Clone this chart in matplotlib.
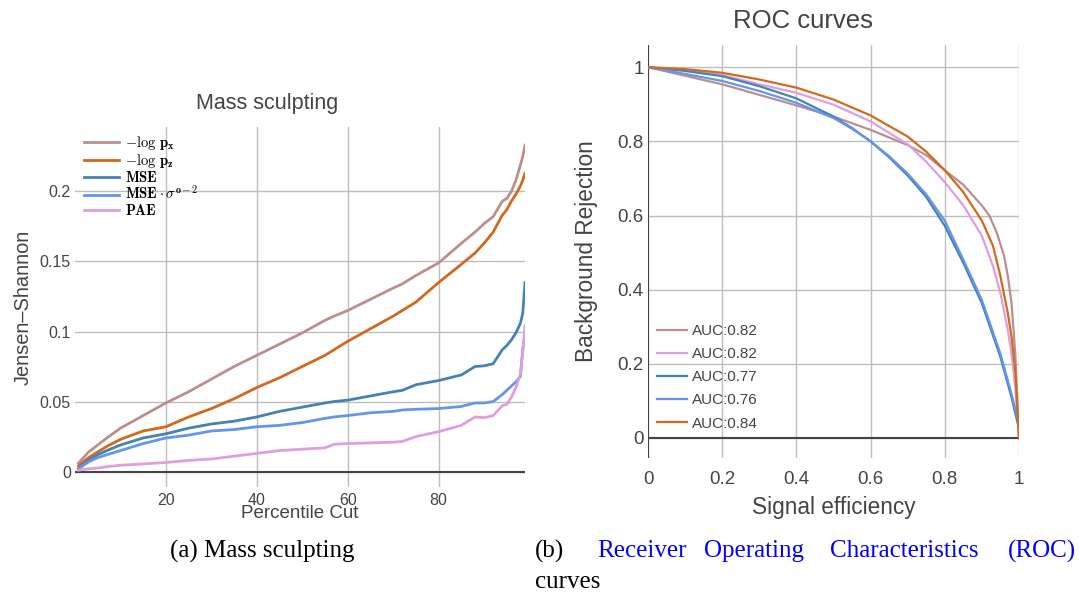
import matplotlib
matplotlib.use("Agg")
import matplotlib.pyplot as plt

# ---- left panel: Jensen-Shannon vs percentile cut ----
pct = [0.75, 3, 5, 7, 10, 15, 20, 25, 30, 35, 40, 45, 50, 55, 57, 60, 65, 70, 72, 75, 80,
       85, 88, 90, 92, 94, 95, 96, 97, 98, 98.5, 99]
js_logpx = [0.006, 0.014, 0.019, 0.024, 0.031, 0.040, 0.049, 0.057, 0.066, 0.075, 0.083, 0.091,
            0.099, 0.108, 0.111, 0.115, 0.123, 0.131, 0.134, 0.140, 0.149, 0.163, 0.171, 0.177,
            0.182, 0.193, 0.195, 0.200, 0.208, 0.219, 0.225, 0.233]
js_logpz = [0.004, 0.010, 0.014, 0.018, 0.023, 0.029, 0.032, 0.039, 0.045, 0.052, 0.060, 0.067,
            0.075, 0.083, 0.087, 0.093, 0.102, 0.111, 0.115, 0.121, 0.135, 0.148, 0.156, 0.163,
            0.171, 0.183, 0.187, 0.193, 0.198, 0.204, 0.208, 0.213]
js_mse = [0.002, 0.008, 0.012, 0.015, 0.019, 0.024, 0.027, 0.031, 0.034, 0.036, 0.039, 0.043,
          0.046, 0.049, 0.050, 0.051, 0.054, 0.057, 0.058, 0.062, 0.065, 0.069, 0.075, 0.0755,
          0.077, 0.087, 0.090, 0.094, 0.099, 0.106, 0.113, 0.135]
js_mse_sig = [0.002, 0.007, 0.010, 0.012, 0.015, 0.020, 0.024, 0.026, 0.029, 0.030, 0.032, 0.033,
              0.035, 0.038, 0.039, 0.040, 0.042, 0.043, 0.044, 0.0445, 0.045, 0.0465, 0.049, 0.049,
              0.050, 0.055, 0.058, 0.061, 0.064, 0.068, 0.087, 0.098]
js_pae = [0.001, 0.002, 0.0025, 0.0035, 0.0045, 0.0055, 0.0065, 0.008, 0.009, 0.011, 0.013, 0.015,
          0.016, 0.017, 0.0195, 0.020, 0.0205, 0.021, 0.0215, 0.025, 0.0285, 0.033, 0.039, 0.0385,
          0.040, 0.047, 0.048, 0.053, 0.060, 0.070, 0.085, 0.104]

left_labels = [r"$\mathbf{-\log\,p_x}$", r"$\mathbf{-\log\,p_z}$", r"$\mathbf{MSE}$",
               r"$\mathbf{MSE\cdot\sigma^{o-2}}$", r"$\mathbf{PAE}$"]

# ---- right panel: ROC curves ----
eff_a = [0, 0.2, 0.4, 0.5, 0.6, 0.7, 0.75, 0.8, 0.85, 0.9, 0.92, 0.94, 0.96, 0.97, 0.98, 0.99, 1.0]
rej_brown = [1.0, 0.954, 0.897, 0.867, 0.831, 0.790, 0.763, 0.722, 0.683, 0.627, 0.600,
             0.554, 0.490, 0.436, 0.363, 0.227, 0.0]
eff_b = [0, 0.1, 0.2, 0.3, 0.4, 0.5, 0.6, 0.7, 0.75, 0.8, 0.85, 0.9, 0.93, 0.95, 0.97, 0.98, 0.99, 1.0]
rej_plum = [1.0, 0.992, 0.979, 0.954, 0.931, 0.899, 0.854, 0.792, 0.745, 0.690, 0.627,
            0.545, 0.463, 0.390, 0.290, 0.227, 0.136, 0.0]
rej_orange = [1.0, 0.995, 0.985, 0.967, 0.945, 0.913, 0.870, 0.813, 0.772, 0.722, 0.663,
              0.586, 0.518, 0.436, 0.336, 0.272, 0.180, 0.0]
eff_c = [0, 0.1, 0.2, 0.3, 0.4, 0.5, 0.55, 0.6, 0.65, 0.7, 0.75, 0.8, 0.85, 0.9, 0.95, 0.98, 1.0]
rej_steel = [1.0, 0.990, 0.976, 0.949, 0.916, 0.867, 0.836, 0.800, 0.757, 0.708, 0.650,
             0.572, 0.472, 0.363, 0.218, 0.109, 0.025]
rej_cflower = [1.0, 0.982, 0.963, 0.936, 0.904, 0.863, 0.834, 0.800, 0.760, 0.713, 0.657,
               0.586, 0.481, 0.372, 0.227, 0.118, 0.040]
roc_labels = ["AUC:0.82", "AUC:0.82", "AUC:0.77", "AUC:0.76", "AUC:0.84"]

c_brown, c_orange, c_steel, c_cflower, c_plum = "#bc8f8f", "#d2691e", "#4682b4", "#6495ed", "#dda0dd"
txt = "#444444"
grid_c = "#bebebe"

plt.rcParams["font.family"] = ["Liberation Sans", "DejaVu Sans"]
plt.rcParams["mathtext.fontset"] = "cm"

fig = plt.figure(figsize=(10.79, 5.97), dpi=100)


def style(ax):
    for s in ax.spines.values():
        s.set_visible(False)
    ax.tick_params(length=0, colors=txt, pad=3)
    ax.grid(True, color=grid_c, lw=1)
    ax.set_axisbelow(True)


# left
ax1 = fig.add_axes([75 / 1079, 1 - 487 / 597, 450 / 1079, 360 / 597])
style(ax1)
ax1.axhline(0, color="#444444", lw=1.5, zorder=1)
for ys, c, lab in zip([js_logpx, js_logpz, js_mse, js_mse_sig, js_pae],
                      [c_brown, c_orange, c_steel, c_cflower, c_plum], left_labels):
    ax1.plot(pct, ys, color=c, lw=2, label=lab)
ax1.set_xlim(0, 99)
ax1.set_ylim(-0.011, 0.246)
ax1.set_xticks([20, 40, 60, 80])
ax1.set_yticks([0, 0.05, 0.1, 0.15, 0.2])
ax1.set_yticklabels(["0", "0.05", "0.1", "0.15", "0.2"])
ax1.tick_params(axis="both", labelsize=11.5)
ax1.tick_params(axis="x", pad=4)
ax1.set_title("Mass sculpting", color=txt, fontsize=15.5, pad=13, x=(267 - 75) / 450)
ax1.set_ylabel("Jensen–Shannon", color=txt, fontsize=14.4, labelpad=5)
ax1.set_xlabel("Percentile Cut", color=txt, fontsize=13.5, labelpad=-1.5)
ax1.legend(loc="upper left", bbox_to_anchor=(-0.002, 1.01), frameon=False, fontsize=10.5,
           handlelength=2.4, handletextpad=0.4, labelspacing=0.0, borderaxespad=0.3)

# right
ax2 = fig.add_axes([648 / 1079, 1 - 458 / 597, 371 / 1079, 413 / 597])
style(ax2)
ax2.axhline(0, color="#444444", lw=1.5, zorder=1)
ax2.axvline(0, color="#444444", lw=1.5, zorder=1)
ax2.plot(eff_a, rej_brown, color=c_brown, lw=1.6, label=roc_labels[0])
ax2.plot(eff_b, rej_plum, color=c_plum, lw=1.6, label=roc_labels[1])
ax2.plot(eff_c, rej_steel, color=c_steel, lw=1.6, label=roc_labels[2])
ax2.plot(eff_c, rej_cflower, color=c_cflower, lw=1.6, label=roc_labels[3])
ax2.plot(eff_b, rej_orange, color=c_orange, lw=1.6, label=roc_labels[4])
ax2.set_xlim(0, 1)
ax2.set_ylim(-0.054, 1.06)
ax2.set_xticks([0, 0.2, 0.4, 0.6, 0.8, 1])
ax2.set_xticklabels(["0", "0.2", "0.4", "0.6", "0.8", "1"])
ax2.set_yticks([0, 0.2, 0.4, 0.6, 0.8, 1])
ax2.set_yticklabels(["0", "0.2", "0.4", "0.6", "0.8", "1"])
ax2.tick_params(axis="both", labelsize=13.5)
ax2.tick_params(axis="x", pad=9)
ax2.set_title("ROC curves", color=txt, fontsize=18.5, pad=12, x=(803 - 648) / 371)
ax2.set_ylabel("Background Rejection", color=txt, fontsize=16.3, labelpad=14)
ax2.set_xlabel("Signal efficiency", color=txt, fontsize=16.3, labelpad=6)
ax2.legend(loc="lower left", bbox_to_anchor=(-0.014, 0.033), frameon=False, fontsize=11,
           labelcolor=txt, handlelength=2.0, handletextpad=0.35, labelspacing=0.6)

# captions
serif = "Liberation Serif"
fig.text(262 / 1079, 1 - 551 / 597, "(a) Mass sculpting", ha="center", va="center",
         fontsize=18, family=serif)
fig.text(535 / 1079, 1 - 551 / 597, "(b)", ha="left", va="center", fontsize=18, family=serif)
for word, px, ha in zip(["Receiver", "Operating", "Characteristics", "(ROC)"],
                        [597, 704, 830, 1076], ["left", "left", "left", "right"]):
    fig.text(px / 1079, 1 - 551 / 597, word, ha=ha, va="center", fontsize=18,
             family=serif, color="blue")
fig.text(535 / 1079, 1 - 582 / 597, "curves", ha="left", va="center", fontsize=18, family=serif)

fig.savefig("out.png", dpi=100)
